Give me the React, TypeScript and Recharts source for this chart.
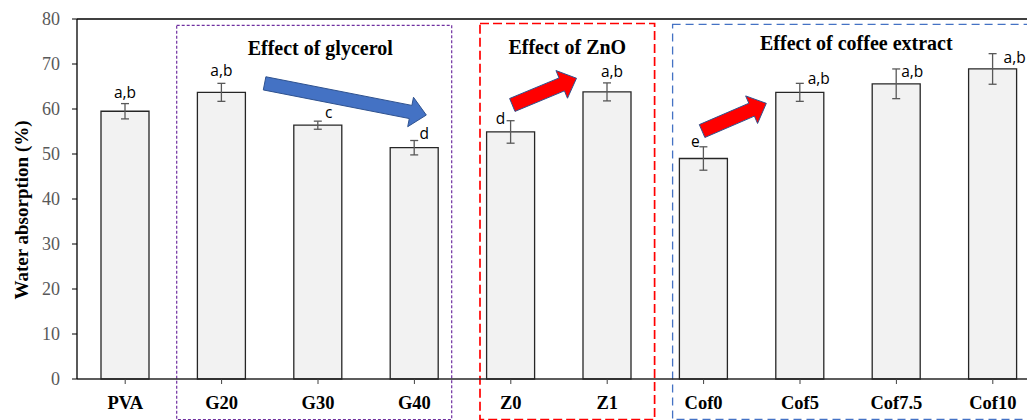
import React from "react";
import {
  BarChart,
  Bar,
  XAxis,
  YAxis,
  ErrorBar,
  LabelList,
  ReferenceLine,
  ReferenceArea,
  ReferenceDot,
} from "recharts";

// values
const categories = ["PVA", "G20", "G30", "G40", "Z0", "Z1", "Cof0", "Cof5", "Cof7.5", "Cof10"];
const absorption = [59.5, 63.7, 56.4, 51.4, 54.9, 63.8, 49.0, 63.7, 65.6, 68.9];
const errors = [1.7, 2.0, 0.9, 1.6, 2.5, 2.0, 2.6, 2.0, 3.3, 3.4];
const letters = ["a,b", "a,b", "c", "d", "d", "a,b", "e", "a,b", "a,b", "a,b"];
const yTicks = [0, 10, 20, 30, 40, 50, 60, 70, 80];

const groupTitles = ["Effect of glycerol", "Effect of ZnO", "Effect of coffee extract"];
const groupFrom = ["G20", "Z0", "Cof0"];
const groupTo = ["G40", "Z1", "Cof10"];

// arrow anchors (category, value) for the trend arrows
const arrowAt = ["G20", "Z0", "Cof0"];
const arrowLevel = [65.7, 60.9, 55.1];

const data = categories.map((name, i) => ({
  name,
  value: absorption[i],
  err: errors[i],
}));

const serif = "'Liberation Serif', 'Times New Roman', serif";

// letter placement next to the error bar top: [dx, baseline dy]
const letterOffsets = [
  [0, -6], [0, -7], [11, -3], [10, -2], [-10, 3],
  [5, -6], [-8, 0], [19, 1], [16, 8], [22, 9],
];

const boxStyles = [
  { color: "#7030A0", dash: "3 2", width: 1.2, top: 78.6, insetL: 3.3, insetR: 10.9, titleDx: 6, titleDy: 30 },
  { color: "#FF0000", dash: "9 4", width: 1.7, top: 79.0, insetL: 17.4, insetR: 0.8, titleDx: 0, titleDy: 30 },
  { color: "#4472C4", dash: "8 5", width: 1.3, top: 78.8, insetL: 17.2, insetR: 1, titleDx: 0, titleDy: 26 },
];

// arrow geometry in px relative to its anchor: tail, tip, shaft half width, head half width, head length
const arrowStyles = [
  { tail: [43, 0], tip: [204.7, 31.7], shaft: 6.7, head: 15, len: 16, fill: "#4472C4" },
  { tail: [1.5, 0], tip: [65.7, -26.7], shaft: 7, head: 15, len: 16, fill: "#FF0000" },
  { tail: [-1.5, 0], tip: [62.7, -27.7], shaft: 7, head: 15, len: 16, fill: "#FF0000" },
];

const arrowPoints = (cx: number, cy: number, s: any) => {
  const tx = cx + s.tail[0];
  const ty = cy + s.tail[1];
  const px = cx + s.tip[0];
  const py = cy + s.tip[1];
  const L = Math.hypot(px - tx, py - ty);
  const ux = (px - tx) / L;
  const uy = (py - ty) / L;
  const nx = -uy;
  const ny = ux;
  const bx = px - ux * s.len;
  const by = py - uy * s.len;
  const pts = [
    [tx + nx * s.shaft, ty + ny * s.shaft],
    [bx + nx * s.shaft, by + ny * s.shaft],
    [bx + nx * s.head, by + ny * s.head],
    [px, py],
    [bx - nx * s.head, by - ny * s.head],
    [bx - nx * s.shaft, by - ny * s.shaft],
    [tx - nx * s.shaft, ty - ny * s.shaft],
  ];
  return pts.map((p) => p.join(",")).join(" ");
};

const renderLetter = (props: any) => {
  const vb = props.viewBox || props;
  const idx = categories.indexOf(props.value);
  if (idx < 0) return null;
  const bx = Number(vb.x ?? props.x);
  const by = Number(vb.y ?? props.y);
  const bw = Number(vb.width ?? props.width);
  const bh = Number(vb.height ?? props.height);
  const k = bh / absorption[idx];
  const errTop = by - errors[idx] * k;
  return (
    <text
      x={bx + bw / 2 + letterOffsets[idx][0]}
      y={errTop + letterOffsets[idx][1]}
      textAnchor="middle"
      fontFamily="'Open Sans', sans-serif"
      fontSize={15.5}
      fill="#000"
    >
      {letters[idx]}
    </text>
  );
};

const YLabel = (props: any) => {
  const vb = props.viewBox || { x: 0, y: 19, width: 77, height: 360 };
  const cx = vb.x + 28;
  const cy = vb.y + vb.height / 2 + 11;
  return (
    <text
      transform={`translate(${cx},${cy}) rotate(-90)`}
      textAnchor="middle"
      fontFamily={serif}
      fontWeight="bold"
      fontSize={19}
      fill="#000"
    >
      Water absorption (%)
    </text>
  );
};

export default function App() {
  return (
    <div
      style={{
        position: "fixed",
        left: 0,
        top: 0,
        width: 1027,
        height: 420,
        overflow: "hidden",
        background: "#fff",
      }}
    >
      <BarChart
        width={1050}
        height={420}
        data={data}
        margin={{ top: 19, right: 9, bottom: 0, left: 0 }}
        barSize={48}
      >
        <XAxis
          dataKey="name"
          interval={0}
          height={41}
          tickSize={5}
          tickMargin={12}
          axisLine={{ stroke: "#262626", strokeWidth: 1.5 }}
          tickLine={{ stroke: "#404040" }}
          tick={{ fill: "#000", fontSize: 18.5, fontWeight: "bold", fontFamily: serif }}
        />
        <YAxis
          domain={[0, 80]}
          ticks={yTicks}
          width={77}
          tickSize={5}
          tickMargin={12}
          axisLine={{ stroke: "#000", strokeWidth: 1.3 }}
          tickLine={{ stroke: "#000" }}
          tick={{ fill: "#595959", fontSize: 18, fontFamily: serif }}
          label={<YLabel />}
        />
        <ReferenceLine y={80} stroke="#000" strokeWidth={1.3} ifOverflow="visible" />
        {groupTitles.map((title, i) => {
          const st = boxStyles[i];
          return (
            <ReferenceArea
              key={title}
              x1={groupFrom[i]}
              x2={groupTo[i]}
              y1={-9}
              y2={st.top}
              ifOverflow="visible"
              shape={(p: any) => {
                const x = p.x + st.insetL;
                const w = p.width - st.insetL - st.insetR;
                return (
                  <g>
                    <rect
                      x={x}
                      y={p.y}
                      width={w}
                      height={p.height}
                      fill="none"
                      stroke={st.color}
                      strokeWidth={st.width}
                      strokeDasharray={st.dash}
                    />
                    <text
                      x={x + w / 2 + st.titleDx}
                      y={p.y + st.titleDy}
                      textAnchor="middle"
                      fontFamily={serif}
                      fontWeight="bold"
                      fontSize={20}
                      fill="#000"
                    >
                      {title}
                    </text>
                  </g>
                );
              }}
            />
          );
        })}
        <Bar
          dataKey="value"
          fill="#F2F2F2"
          stroke="#262626"
          strokeWidth={1.3}
          isAnimationActive={false}
        >
          <ErrorBar dataKey="err" width={4} stroke="#595959" strokeWidth={1.3} />
          <LabelList dataKey="name" content={renderLetter} />
        </Bar>
        {arrowAt.map((cat, i) => (
          <ReferenceDot
            key={"arrow" + i}
            x={cat}
            y={arrowLevel[i]}
            ifOverflow="visible"
            shape={(p: any) => (
              <polygon
                points={arrowPoints(p.cx, p.cy, arrowStyles[i])}
                fill={arrowStyles[i].fill}
                stroke="#2F528F"
                strokeWidth={1}
              />
            )}
          />
        ))}
      </BarChart>
    </div>
  );
}
